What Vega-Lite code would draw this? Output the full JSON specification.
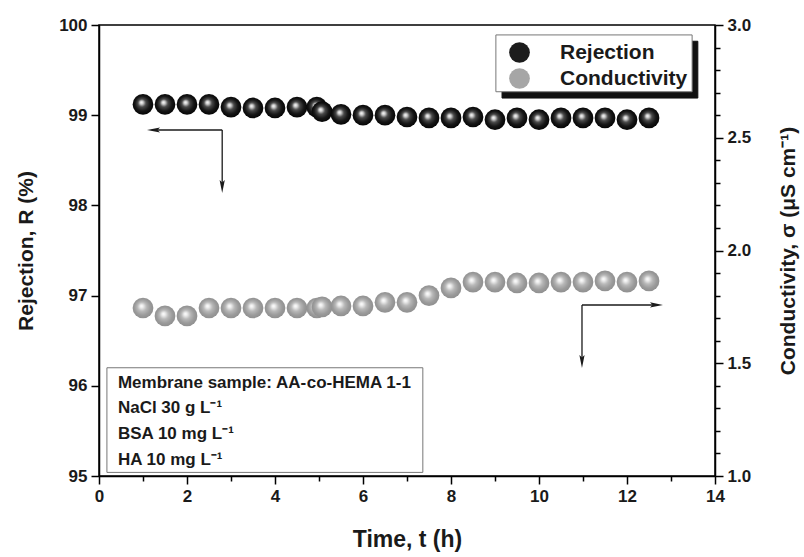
{
  "$schema": "https://vega.github.io/schema/vega-lite/v6.json",
  "width": 616,
  "height": 451,
  "autosize": {"type": "none"},
  "padding": {"left": 99, "top": 25, "right": 89, "bottom": 81},
  "background": "white",
  "config": {
    "font": "Liberation Sans",
    "view": {"stroke": "black", "strokeWidth": 1.5},
    "axis": {
      "domainColor": "black", "domainWidth": 1.5, "tickColor": "black", "tickWidth": 1.5,
      "labelFont": "Liberation Sans", "labelFontWeight": "bold", "labelFontSize": 17, "labelColor": "#1a1a1a",
      "titleFont": "Liberation Sans", "titleFontWeight": "bold", "titleFontSize": 21, "titleColor": "#1a1a1a",
      "grid": false, "labelOverlap": false, "labelFlush": false, "labelPadding": 4
    }
  },
  "datasets": {
    "rej": [
      {"t": 1.0, "R": 99.12}, {"t": 1.5, "R": 99.12}, {"t": 2.0, "R": 99.12}, {"t": 2.5, "R": 99.12},
      {"t": 3.0, "R": 99.09}, {"t": 3.5, "R": 99.08}, {"t": 4.0, "R": 99.08}, {"t": 4.5, "R": 99.09},
      {"t": 4.95, "R": 99.09}, {"t": 5.07, "R": 99.04}, {"t": 5.5, "R": 99.01}, {"t": 6.0, "R": 99.0},
      {"t": 6.5, "R": 99.0}, {"t": 7.0, "R": 98.98}, {"t": 7.5, "R": 98.97}, {"t": 8.0, "R": 98.97},
      {"t": 8.5, "R": 98.98}, {"t": 9.0, "R": 98.95}, {"t": 9.5, "R": 98.97}, {"t": 10.0, "R": 98.95},
      {"t": 10.5, "R": 98.97}, {"t": 11.0, "R": 98.97}, {"t": 11.5, "R": 98.97}, {"t": 12.0, "R": 98.95},
      {"t": 12.5, "R": 98.97}
    ],
    "cond": [
      {"t": 1.0, "C": 1.745}, {"t": 1.5, "C": 1.71}, {"t": 2.0, "C": 1.71}, {"t": 2.5, "C": 1.745},
      {"t": 3.0, "C": 1.745}, {"t": 3.5, "C": 1.745}, {"t": 4.0, "C": 1.745}, {"t": 4.5, "C": 1.745},
      {"t": 4.95, "C": 1.745}, {"t": 5.07, "C": 1.75}, {"t": 5.5, "C": 1.754}, {"t": 6.0, "C": 1.754},
      {"t": 6.5, "C": 1.77}, {"t": 7.0, "C": 1.77}, {"t": 7.5, "C": 1.80}, {"t": 8.0, "C": 1.834},
      {"t": 8.5, "C": 1.86}, {"t": 9.0, "C": 1.86}, {"t": 9.5, "C": 1.856}, {"t": 10.0, "C": 1.856},
      {"t": 10.5, "C": 1.86}, {"t": 11.0, "C": 1.86}, {"t": 11.5, "C": 1.865}, {"t": 12.0, "C": 1.86},
      {"t": 12.5, "C": 1.865}
    ],
    "rules": [
      {"x": 2.8, "x2": 1.2, "y": 98.836, "y2": 98.836},
      {"x": 2.8, "x2": 2.8, "y": 98.836, "y2": 98.22},
      {"x": 10.977, "x2": 12.7, "y": 96.896, "y2": 96.896},
      {"x": 10.977, "x2": 10.977, "y": 96.896, "y2": 96.28}
    ],
    "heads": [
      {"x": 1.239, "y": 98.836, "dir": "left"},
      {"x": 2.8, "y": 98.21, "dir": "down"},
      {"x": 12.67, "y": 96.896, "dir": "right"},
      {"x": 10.977, "y": 96.269, "dir": "down"}
    ],
    "boxes": [
      {"kind": "shadow", "x": 9.16, "x2": 13.61, "y": 99.82, "y2": 99.19},
      {"kind": "legend", "x": 9.02, "x2": 13.48, "y": 99.89, "y2": 99.26},
      {"kind": "note", "x": 0.18, "x2": 7.36, "y": 96.2, "y2": 95.04}
    ],
    "notes": [
      {"x": 0.43, "y": 96.03, "txt": "Membrane sample: AA-", "style": "normal"},
      {"x": 4.72, "y": 96.03, "txt": "co", "style": "italic"},
      {"x": 5.17, "y": 96.03, "txt": "-HEMA 1-1", "style": "normal"},
      {"x": 0.43, "y": 95.75, "txt": "NaCl 30 g L⁻¹", "style": "normal"},
      {"x": 0.43, "y": 95.47, "txt": "BSA 10 mg L⁻¹", "style": "normal"},
      {"x": 0.43, "y": 95.18, "txt": "HA 10 mg L⁻¹", "style": "normal"}
    ]
  },
  "resolve": {"scale": {"y": "independent"}},
  "layer": [
    {
      "layer": [
        {
          "data": {"name": "boxes"},
          "transform": [{"filter": "datum.kind !== 'legend'"}],
          "mark": {"type": "rect", "strokeWidth": 1},
          "encoding": {
            "x": {"field": "x", "type": "quantitative", "scale": {"domain": [0, 14], "nice": false}, "title": "Time, t (h)",
              "axis": {"values": [0,0.5,1,1.5,2,2.5,3,3.5,4,4.5,5,5.5,6,6.5,7,7.5,8,8.5,9,9.5,10,10.5,11,11.5,12,12.5,13,13.5,14], "tickCount": 200, "format": "d", "labelExpr": "datum.value % 2 === 0 ? datum.label : ''", "tickSize": {"condition": {"test": "datum.value % 2 === 0", "value": 8}, "value": 5}, "titlePadding": 24, "titleFontSize": 23}},
            "x2": {"field": "x2"},
            "y": {"field": "y", "type": "quantitative", "scale": {"domain": [95, 100], "nice": false, "zero": false}, "title": "Rejection, R (%)",
              "axis": {"tickCount": 5, "tickMinStep": 1, "format": "d", "tickSize": 8, "titlePadding": 22}},
            "y2": {"field": "y2"},
            "fill": {"condition": {"test": "datum.kind === 'shadow'", "value": "#111111"}, "value": "white"},
            "stroke": {"condition": {"test": "datum.kind === 'shadow'", "value": "#111111"}, "value": "#777777"}
          }
        },
        {
          "data": {"name": "boxes"},
          "transform": [{"filter": "datum.kind === 'legend'"}],
          "mark": {"type": "rect", "strokeWidth": 1, "fill": "white", "stroke": "#777777"},
          "encoding": {
            "x": {"field": "x", "type": "quantitative", "title": "Time, t (h)",
              "axis": {"values": [0,0.5,1,1.5,2,2.5,3,3.5,4,4.5,5,5.5,6,6.5,7,7.5,8,8.5,9,9.5,10,10.5,11,11.5,12,12.5,13,13.5,14], "tickCount": 200, "format": "d", "labelExpr": "datum.value % 2 === 0 ? datum.label : ''", "tickSize": {"condition": {"test": "datum.value % 2 === 0", "value": 8}, "value": 5}, "titlePadding": 24, "titleFontSize": 23}},
            "x2": {"field": "x2"},
            "y": {"field": "y", "type": "quantitative", "title": "Rejection, R (%)",
              "axis": {"tickCount": 5, "tickMinStep": 1, "format": "d", "tickSize": 8, "titlePadding": 22}},
            "y2": {"field": "y2"}
          }
        },
        {
          "data": {"name": "notes"},
          "mark": {"type": "text", "align": "left", "baseline": "middle", "fontSize": 17, "fontWeight": "bold", "color": "#1a1a1a"},
          "encoding": {
            "x": {"field": "x", "type": "quantitative", "title": "Time, t (h)",
              "axis": {"values": [0,0.5,1,1.5,2,2.5,3,3.5,4,4.5,5,5.5,6,6.5,7,7.5,8,8.5,9,9.5,10,10.5,11,11.5,12,12.5,13,13.5,14], "tickCount": 200, "format": "d", "labelExpr": "datum.value % 2 === 0 ? datum.label : ''", "tickSize": {"condition": {"test": "datum.value % 2 === 0", "value": 8}, "value": 5}, "titlePadding": 24, "titleFontSize": 23}},
            "y": {"field": "y", "type": "quantitative", "title": "Rejection, R (%)",
              "axis": {"tickCount": 5, "tickMinStep": 1, "format": "d", "tickSize": 8, "titlePadding": 22}},
            "text": {"field": "txt"},
            "fontStyle": {"field": "style", "type": "nominal", "scale": {"domain": ["normal", "italic"], "range": ["normal", "italic"]}, "legend": null}
          }
        },
        {
          "data": {"name": "rules"},
          "mark": {"type": "rule", "color": "#1a1a1a", "strokeWidth": 1.3},
          "encoding": {
            "x": {"field": "x", "type": "quantitative", "title": "Time, t (h)",
              "axis": {"values": [0,0.5,1,1.5,2,2.5,3,3.5,4,4.5,5,5.5,6,6.5,7,7.5,8,8.5,9,9.5,10,10.5,11,11.5,12,12.5,13,13.5,14], "tickCount": 200, "format": "d", "labelExpr": "datum.value % 2 === 0 ? datum.label : ''", "tickSize": {"condition": {"test": "datum.value % 2 === 0", "value": 8}, "value": 5}, "titlePadding": 24, "titleFontSize": 23}},
            "x2": {"field": "x2"},
            "y": {"field": "y", "type": "quantitative", "title": "Rejection, R (%)",
              "axis": {"tickCount": 5, "tickMinStep": 1, "format": "d", "tickSize": 8, "titlePadding": 22}},
            "y2": {"field": "y2"}
          }
        },
        {
          "data": {"name": "heads"},
          "mark": {"type": "point", "filled": true, "size": 170, "color": "#1a1a1a", "opacity": 1},
          "encoding": {
            "x": {"field": "x", "type": "quantitative", "title": "Time, t (h)",
              "axis": {"values": [0,0.5,1,1.5,2,2.5,3,3.5,4,4.5,5,5.5,6,6.5,7,7.5,8,8.5,9,9.5,10,10.5,11,11.5,12,12.5,13,13.5,14], "tickCount": 200, "format": "d", "labelExpr": "datum.value % 2 === 0 ? datum.label : ''", "tickSize": {"condition": {"test": "datum.value % 2 === 0", "value": 8}, "value": 5}, "titlePadding": 24, "titleFontSize": 23}},
            "y": {"field": "y", "type": "quantitative", "title": "Rejection, R (%)",
              "axis": {"tickCount": 5, "tickMinStep": 1, "format": "d", "tickSize": 8, "titlePadding": 22}},
            "shape": {"field": "dir", "type": "nominal", "legend": null, "scale": {"domain": ["left", "down", "right"], "range": ["M-1,0L1,-0.4L0.6,0L1,0.4Z", "M0,1L-0.4,-1L0,-0.6L0.4,-1Z", "M1,0L-1,-0.4L-0.6,0L-1,0.4Z"]}}
          }
        },
        {
          "data": {"name": "rej"},
          "transform": [{"calculate": "'Rejection'", "as": "series"}],
          "mark": {"type": "point", "filled": true, "size": 430, "opacity": 0, "strokeWidth": 0},
          "encoding": {
            "x": {"field": "t", "type": "quantitative", "title": "Time, t (h)",
              "axis": {"values": [0,0.5,1,1.5,2,2.5,3,3.5,4,4.5,5,5.5,6,6.5,7,7.5,8,8.5,9,9.5,10,10.5,11,11.5,12,12.5,13,13.5,14], "tickCount": 200, "format": "d", "labelExpr": "datum.value % 2 === 0 ? datum.label : ''", "tickSize": {"condition": {"test": "datum.value % 2 === 0", "value": 8}, "value": 5}, "titlePadding": 24, "titleFontSize": 23}},
            "y": {"field": "R", "type": "quantitative", "title": "Rejection, R (%)",
              "axis": {"tickCount": 5, "tickMinStep": 1, "format": "d", "tickSize": 8, "titlePadding": 22}},
            "color": {"field": "series", "type": "nominal", "title": null,
              "scale": {"domain": ["Rejection", "Conductivity"], "range": ["#1c1c1c", "#a6a6a6"]},
              "legend": {"orient": "none", "legendX": 410, "legendY": 17, "padding": 0, "symbolType": "circle", "symbolSize": 430, "symbolStrokeWidth": 0, "symbolOpacity": 1,
                "labelFont": "Liberation Sans", "labelFontSize": 21, "labelFontWeight": "bold", "labelColor": "#1a1a1a", "labelOffset": 30, "rowPadding": 4}}
          }
        },
        {
          "data": {"name": "rej"},
          "mark": {"type": "point", "filled": true, "size": 430, "opacity": 1, "strokeWidth": 0,
            "fill": {"gradient": "radial", "x1": 0.42, "y1": 0.4, "r1": 0, "x2": 0.5, "y2": 0.5, "r2": 0.55,
              "stops": [{"offset": 0, "color": "#ffffff"}, {"offset": 0.14, "color": "#d0d0d0"}, {"offset": 0.35, "color": "#4a4a4a"}, {"offset": 0.65, "color": "#161616"}, {"offset": 1, "color": "#000000"}]}},
          "encoding": {
            "x": {"field": "t", "type": "quantitative", "title": "Time, t (h)",
              "axis": {"values": [0,0.5,1,1.5,2,2.5,3,3.5,4,4.5,5,5.5,6,6.5,7,7.5,8,8.5,9,9.5,10,10.5,11,11.5,12,12.5,13,13.5,14], "tickCount": 200, "format": "d", "labelExpr": "datum.value % 2 === 0 ? datum.label : ''", "tickSize": {"condition": {"test": "datum.value % 2 === 0", "value": 8}, "value": 5}, "titlePadding": 24, "titleFontSize": 23}},
            "y": {"field": "R", "type": "quantitative", "title": "Rejection, R (%)",
              "axis": {"tickCount": 5, "tickMinStep": 1, "format": "d", "tickSize": 8, "titlePadding": 22}}
          }
        }
      ]
    },
    {
      "data": {"name": "cond"},
      "mark": {"type": "point", "filled": true, "size": 430, "opacity": 1, "strokeWidth": 0,
        "fill": {"gradient": "radial", "x1": 0.42, "y1": 0.4, "r1": 0, "x2": 0.5, "y2": 0.5, "r2": 0.55,
          "stops": [{"offset": 0, "color": "#ffffff"}, {"offset": 0.14, "color": "#eeeeee"}, {"offset": 0.4, "color": "#b8b8b8"}, {"offset": 0.7, "color": "#9a9a9a"}, {"offset": 1, "color": "#8c8c8c"}]}},
      "encoding": {
        "x": {"field": "t", "type": "quantitative", "title": "Time, t (h)",
          "axis": {"values": [0,0.5,1,1.5,2,2.5,3,3.5,4,4.5,5,5.5,6,6.5,7,7.5,8,8.5,9,9.5,10,10.5,11,11.5,12,12.5,13,13.5,14], "tickCount": 200, "format": "d", "labelExpr": "datum.value % 2 === 0 ? datum.label : ''", "tickSize": {"condition": {"test": "datum.value % 2 === 0", "value": 8}, "value": 5}, "titlePadding": 24, "titleFontSize": 23}},
        "y": {"field": "C", "type": "quantitative", "title": "Conductivity, σ (μS cm⁻¹)",
          "scale": {"domain": [1, 3], "nice": false, "zero": false},
          "axis": {"orient": "right", "values": [1,1.1,1.2,1.3,1.4,1.5,1.6,1.7,1.8,1.9,2,2.1,2.2,2.3,2.4,2.5,2.6,2.7,2.8,2.9,3],
            "tickCount": 200, "format": ".1f",
            "labelExpr": "datum.value % 0.5 === 0 ? datum.label : ''",
            "tickSize": {"condition": {"test": "datum.value % 0.5 === 0", "value": 8}, "value": 5},
            "titlePadding": 48, "titleAngle": 270}}
      }
    }
  ]
}
